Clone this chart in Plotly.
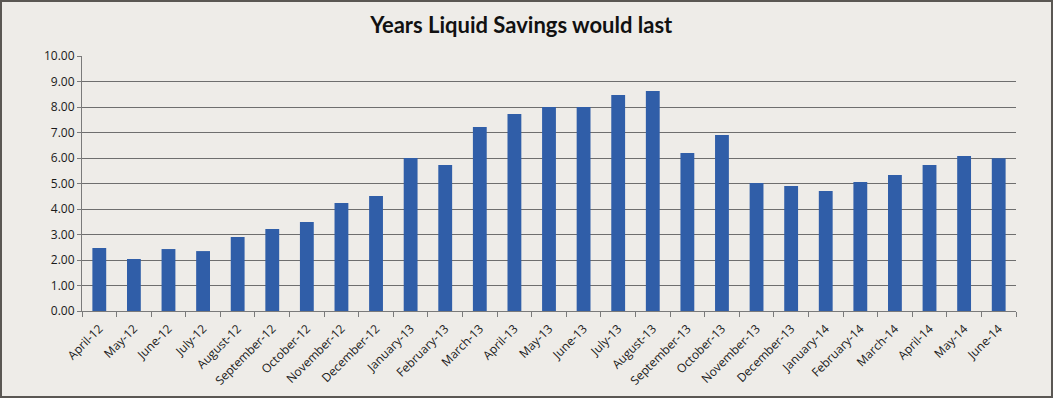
import plotly.graph_objects as go

months = ["April-12", "May-12", "June-12", "July-12", "August-12", "September-12",
          "October-12", "November-12", "December-12", "January-13", "February-13",
          "March-13", "April-13", "May-13", "June-13", "July-13", "August-13",
          "September-13", "October-13", "November-13", "December-13", "January-14",
          "February-14", "March-14", "April-14", "May-14", "June-14"]
years = [2.47, 2.04, 2.43, 2.35, 2.90, 3.22, 3.49, 4.24, 4.51, 6.00, 5.73,
         7.22, 7.73, 8.00, 8.00, 8.47, 8.63, 6.20, 6.90, 5.02, 4.90, 4.71,
         5.06, 5.33, 5.73, 6.08, 5.99]
y_ticks = [0, 1, 2, 3, 4, 5, 6, 7, 8, 9, 10]

W, H = 1053, 398
L, R, T, B = 82, 37, 56, 87
BG = "#EEECE8"

fig = go.Figure(go.Bar(x=months, y=years, marker=dict(color="#305EA8", line=dict(width=0)),
                       width=0.4))

fig.update_layout(
    width=W, height=H,
    margin=dict(l=L, r=R, t=T, b=B),
    paper_bgcolor=BG, plot_bgcolor=BG,
    title=dict(text="<b>Years Liquid Savings would last</b>", x=0.495, xref="container",
               xanchor="center", y=1 - 25 / H, yref="container", yanchor="middle",
               font=dict(family="Lato", size=22, color="#111111")),
    font=dict(family="Open Sans", size=12, color="#1a1a1a"),
    showlegend=False,
    xaxis=dict(type="category", tickangle=-45, showgrid=False, showline=True,
               linecolor="#7a7a7a", linewidth=1, ticks="outside", tickson="boundaries",
               ticklen=5, tickcolor="#7a7a7a", tickfont=dict(size=12, family="Open Sans"),
               ticklabelstandoff=5, automargin=False,
               range=[-0.5, len(months) - 0.5]),
    yaxis=dict(range=[0, 10], tickvals=y_ticks, tickformat=".2f", showgrid=True,
               gridcolor="#6e6e6e", gridwidth=1, showline=True, linecolor="#7a7a7a",
               linewidth=1, ticks="outside", ticklen=4, tickcolor="#7a7a7a",
               zeroline=False, automargin=False, tickfont=dict(size=12, family="Open Sans")),
)

pw = W - L - R
ph = H - T - B
x0 = (1 - L) / pw
x1 = (W - 1 - L) / pw
y0 = -(H - 1 - T - ph) / ph
y1 = (H - 1 - B) / ph
fig.add_shape(type="rect", xref="paper", yref="paper", x0=x0, x1=x1, y0=y0, y1=y1,
              line=dict(color="#5a5753", width=2), layer="above")

fig.write_html("out.html", config={"displayModeBar": False},
               post_script="document.body.style.margin='0';document.body.style.overflow='hidden';")
